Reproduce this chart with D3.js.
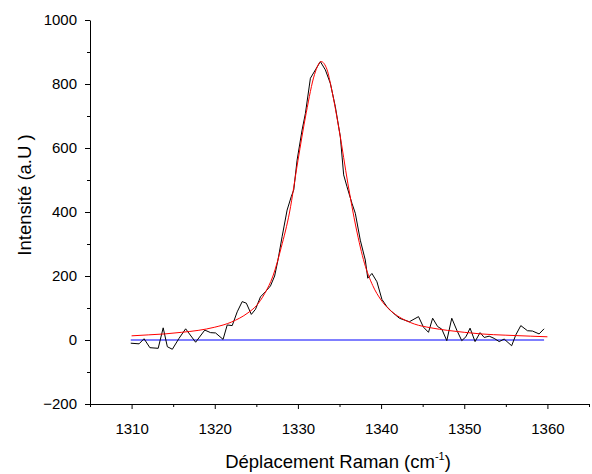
<!DOCTYPE html>
<html><head><meta charset="utf-8">
<script src="https://cdn.jsdelivr.net/npm/d3@7"></script>
<style>
body{margin:0;background:#fff;}
text{font-family:Arial,"Liberation Sans",sans-serif;fill:#000;}
</style></head>
<body><svg id="c" width="592" height="474"></svg>
<script>
// Measured spectrum (Raman shift cm-1, intensity)
const measuredShift = [1309.9,1310.9,1311.5,1312.2,1313.2,1313.8,1314.3,1314.9,1315.7,1316.5,1317.7,1318.8,1319.5,1320.1,1321.0,1321.5,1322.1,1322.7,1323.3,1323.8,1324.4,1324.9,1325.5,1326.1,1326.7,1327.2,1327.6,1328.1,1328.7,1329.2,1329.5,1329.9,1330.5,1330.9,1331.5,1332.1,1332.7,1333.3,1333.9,1334.5,1335.1,1335.5,1335.9,1336.5,1336.9,1337.5,1338.1,1338.4,1338.9,1339.5,1340.1,1340.7,1341.3,1342.2,1343.4,1344.5,1345.1,1345.7,1346.2,1346.8,1347.3,1347.9,1348.5,1349.1,1349.7,1350.2,1350.7,1351.3,1351.9,1352.4,1353.0,1353.6,1354.2,1354.8,1355.7,1356.2,1356.8,1357.6,1358.2,1359.0,1359.6];
const measuredIntensity = [-10,-12,4,-24,-26,38,-21,-29,5,35,-7,31,23,22,2,47,45,88,120,115,80,96,135,151,169,200,250,323,406,448,469,562,656,708,818,844,870,844,802,729,635,516,479,427,396,312,250,193,208,182,127,104,88,68,57,73,40,24,68,42,34,-2,68,31,-2,10,37,-5,23,8,12,5,-5,3,-18,16,45,29,28,19,35];
// Fitted curve (red)
const fitShift = [1310,1312,1314,1316,1318,1320,1322,1324,1325,1326,1327,1328,1329,1330,1331,1332,1332.8,1333.5,1334,1335,1336,1337,1338,1339,1340,1341,1342,1344,1346,1348,1350,1352,1355,1358,1360];
const fitIntensity = [13,16,19,24,30,40,56,85,107,145,200,290,400,560,710,830,870,845,790,650,490,350,240,170,125,95,75,50,38,30,24,19,15,12,10];
// Baseline
const baseShift = [1309.9,1359.6];
const baseIntensity = [0,0];

const xTicks = [1310,1320,1330,1340,1350,1360];
const yTicks = [-200,0,200,400,600,800,1000];

const svg = d3.select("#c");
const x = d3.scaleLinear().domain([1305,1365]).range([90,589]);
const y = d3.scaleLinear().domain([-200,1000]).range([404,20]);

// axes
const xAxis = svg.append("g").attr("transform","translate(0,404)");
xAxis.call(d3.axisBottom(x).tickValues(xTicks).tickSize(5).tickSizeOuter(0).tickPadding(14).tickFormat(d3.format("d")));
const xMinor = svg.append("g").attr("transform","translate(0,404)");
xMinor.call(d3.axisBottom(x).tickValues(d3.range(1305,1366,10)).tickSize(3).tickSizeOuter(0).tickFormat(""));
const yAxis = svg.append("g").attr("transform","translate(90,0)");
yAxis.call(d3.axisLeft(y).tickValues(yTicks).tickSize(5).tickSizeOuter(0).tickPadding(8).tickFormat(d3.format("d")));
const yMinor = svg.append("g").attr("transform","translate(90,0)");
yMinor.call(d3.axisLeft(y).tickValues(d3.range(-100,1000,200)).tickSize(3).tickSizeOuter(0).tickFormat(""));
svg.selectAll(".domain").attr("stroke","#000");
svg.selectAll(".tick line").attr("stroke","#000");
svg.selectAll(".tick text").attr("font-size","15px").style("font-family","Arial, 'Liberation Sans', sans-serif");
xMinor.select(".domain").remove(); yMinor.select(".domain").remove();

// lines
const lineM = d3.line().x((d,i)=>x(measuredShift[i])).y(d=>y(d));
svg.append("path").datum(baseIntensity)
  .attr("d", d3.line().x((d,i)=>x(baseShift[i])).y(d=>y(d)))
  .attr("fill","none").attr("stroke","#0000ff").attr("stroke-width",1);
svg.append("path").datum(measuredIntensity).attr("d",lineM)
  .attr("fill","none").attr("stroke","#000").attr("stroke-width",1);
svg.append("path").datum(fitIntensity)
  .attr("d", d3.line().curve(d3.curveMonotoneX).x((d,i)=>x(fitShift[i])).y(d=>y(d)))
  .attr("fill","none").attr("stroke","#ff0000").attr("stroke-width",1);

// labels
const xl = svg.append("text").attr("x",338).attr("y",468).attr("text-anchor","middle").attr("font-size","18.5px");
xl.append("tspan").text("Déplacement Raman (cm");
xl.append("tspan").attr("font-size","11px").attr("dy","-8").text("-1");
xl.append("tspan").attr("dy","8").text(")");
svg.append("text").attr("transform","translate(31,195) rotate(-90)").attr("text-anchor","middle")
  .attr("font-size","18.5px").text("Intensité (a.U )");
</script></body></html>
